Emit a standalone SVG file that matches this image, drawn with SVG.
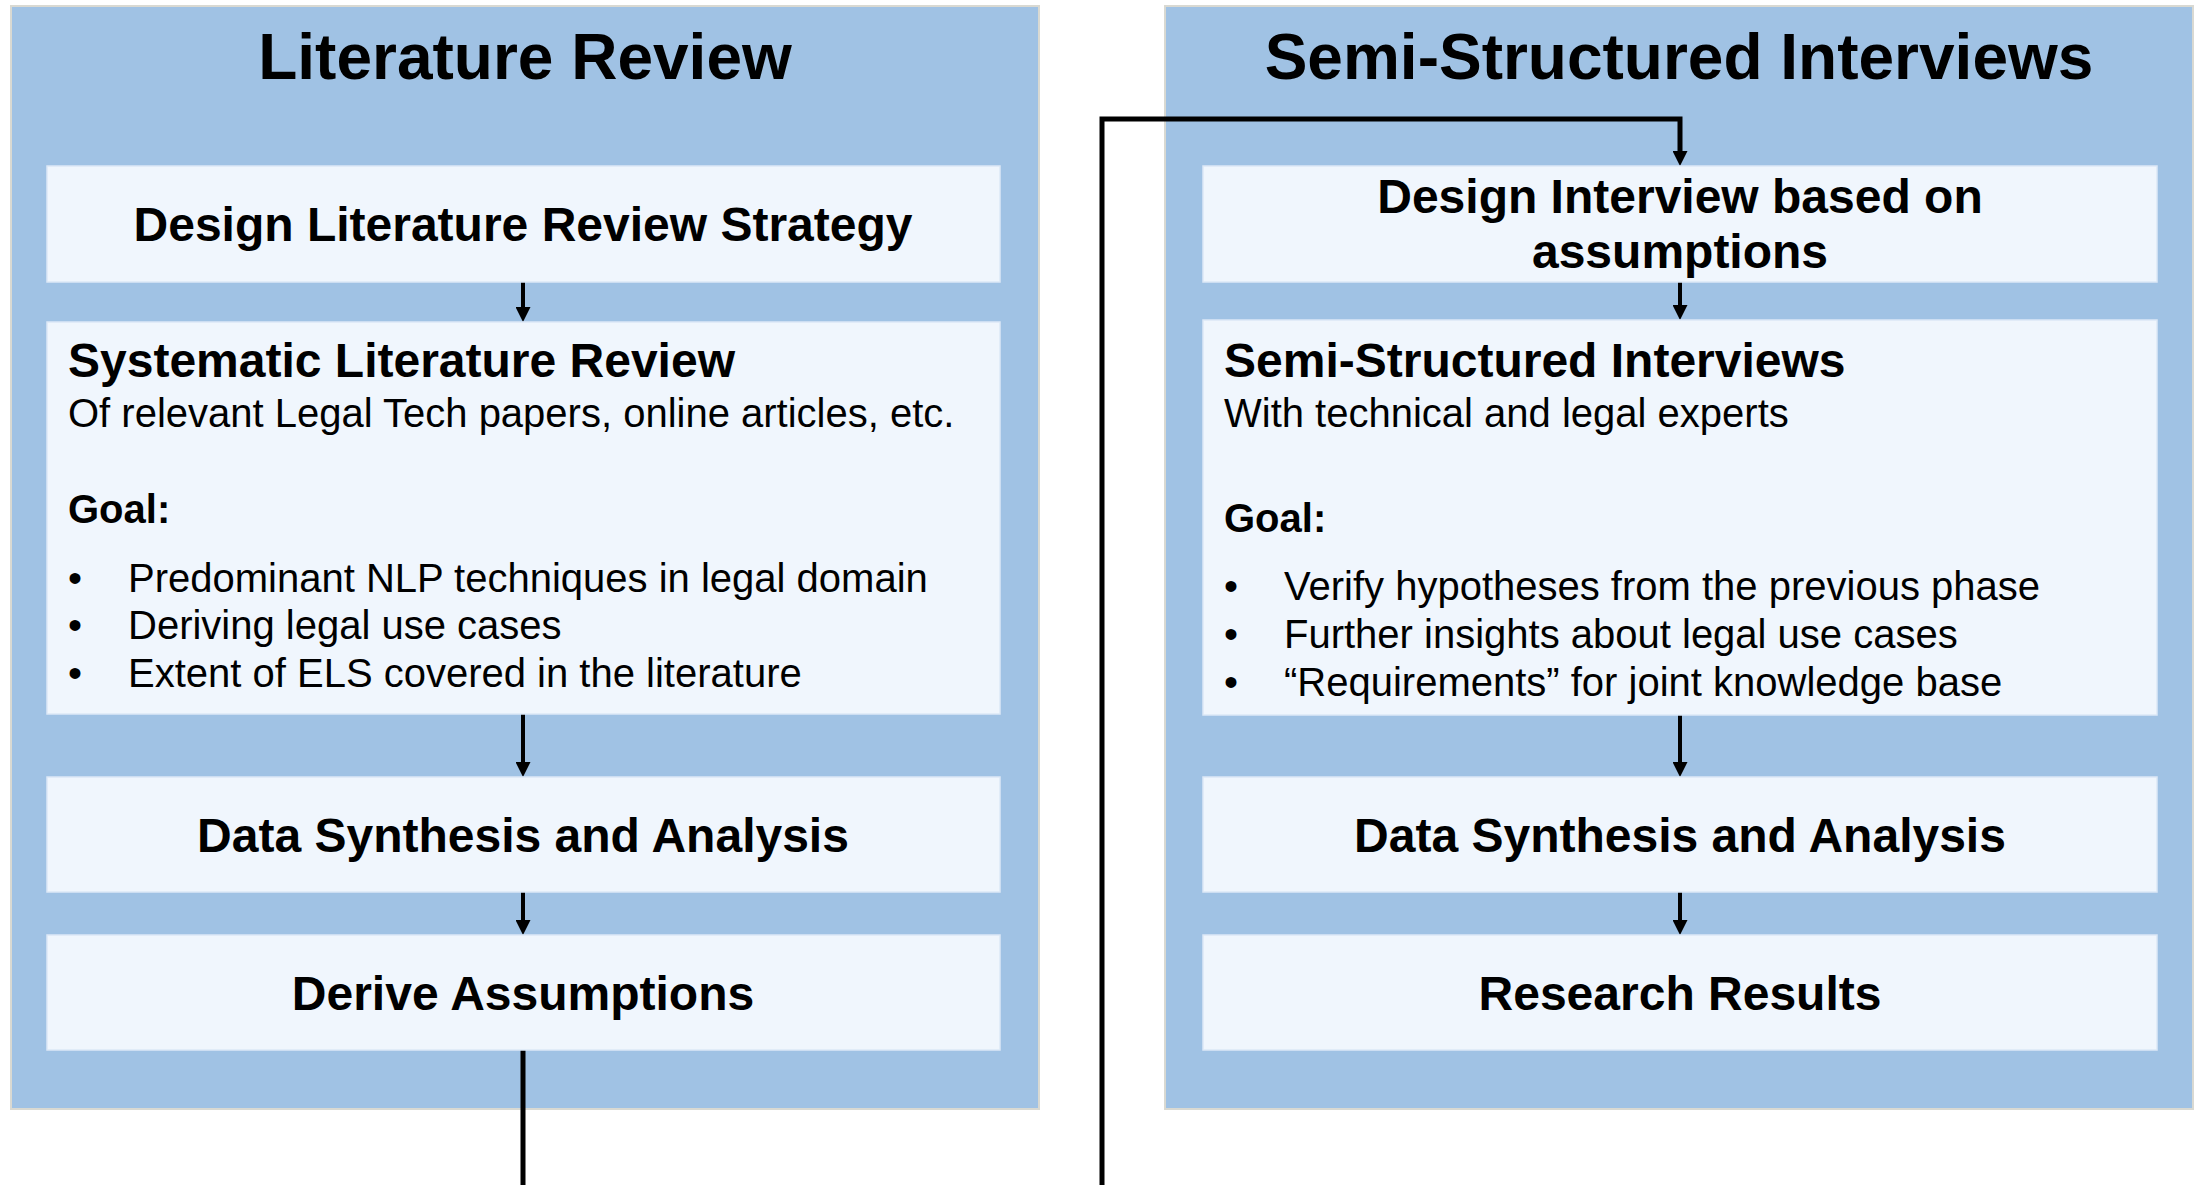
<svg xmlns="http://www.w3.org/2000/svg" width="2199" height="1185" viewBox="0 0 2199 1185">
<defs>
<style>
.panel{fill:#a0c2e4;stroke:#d9d9d2;stroke-width:2}
.box{fill:#f0f6fd;stroke:#dce8f6;stroke-width:1.5}
text{font-family:"Liberation Sans",Arial,Helvetica,sans-serif;fill:#000}
.ptitle{font-size:64px;font-weight:bold;text-anchor:middle}
.btitle{font-size:48px;font-weight:bold}
.c{text-anchor:middle}
.body{font-size:40px}
.bold{font-weight:bold}
.conn{fill:none;stroke:#000;stroke-width:4}
.long{stroke-width:5}
</style>
<marker id="arr" viewBox="0 0 15 15" refX="7" refY="7.5" markerWidth="15" markerHeight="15" markerUnits="userSpaceOnUse" orient="auto">
<path d="M0,0 L15,7.5 L0,15 Z" fill="#000"/>
</marker>
</defs>
<rect width="2199" height="1185" fill="#fff"/>
<g id="panel-literature-review">
<rect class="panel" x="11" y="6" width="1028" height="1103"/>
<text class="ptitle" x="525" y="79">Literature Review</text>
</g>
<g id="panel-semi-structured-interviews">
<rect class="panel" x="1165" y="6" width="1028" height="1103"/>
<text class="ptitle" x="1679" y="79">Semi-Structured Interviews</text>
</g>
<g id="connectors">
<path class="conn" d="M523,282 V314" marker-end="url(#arr)"/>
<path class="conn" d="M523,714 V769" marker-end="url(#arr)"/>
<path class="conn" d="M523,892 V927" marker-end="url(#arr)"/>
<path class="conn" d="M1680,282 V312" marker-end="url(#arr)"/>
<path class="conn" d="M1680,715 V769" marker-end="url(#arr)"/>
<path class="conn" d="M1680,892 V927" marker-end="url(#arr)"/>
<path class="conn long" d="M523,1050 V1200 H1102 V119 H1680 V158" marker-end="url(#arr)"/>
</g>
<g id="lr-design">
<rect class="box" x="47" y="166" width="953" height="116"/>
<text class="btitle c" x="523" y="241">Design Literature Review Strategy</text>
</g>
<g id="lr-slr">
<rect class="box" x="47" y="322" width="953" height="392"/>
<text class="btitle" x="68" y="377">Systematic Literature Review</text>
<text class="body" x="68" y="427">Of relevant Legal Tech papers, online articles, etc.</text>
<text class="body bold" x="68" y="523">Goal:</text>
<text class="body" x="68" y="592">•</text><text class="body" x="128" y="592">Predominant NLP techniques in legal domain</text>
<text class="body" x="68" y="639">•</text><text class="body" x="128" y="639">Deriving legal use cases</text>
<text class="body" x="68" y="687">•</text><text class="body" x="128" y="687">Extent of ELS covered in the literature</text>
</g>
<g id="lr-synthesis">
<rect class="box" x="47" y="777" width="953" height="115"/>
<text class="btitle c" x="523" y="852">Data Synthesis and Analysis</text>
</g>
<g id="lr-assumptions">
<rect class="box" x="47" y="935" width="953" height="115"/>
<text class="btitle c" x="523" y="1010">Derive Assumptions</text>
</g>
<g id="ssi-design">
<rect class="box" x="1203" y="166" width="954" height="116"/>
<text class="btitle c" x="1680" y="213">Design Interview based on</text>
<text class="btitle c" x="1680" y="268">assumptions</text>
</g>
<g id="ssi-interviews">
<rect class="box" x="1203" y="320" width="954" height="395"/>
<text class="btitle" x="1224" y="377">Semi-Structured Interviews</text>
<text class="body" x="1224" y="427">With technical and legal experts</text>
<text class="body bold" x="1224" y="532">Goal:</text>
<text class="body" x="1224" y="600">•</text><text class="body" x="1284" y="600">Verify hypotheses from the previous phase</text>
<text class="body" x="1224" y="648">•</text><text class="body" x="1284" y="648">Further insights about legal use cases</text>
<text class="body" x="1224" y="696">•</text><text class="body" x="1284" y="696">“Requirements” for joint knowledge base</text>
</g>
<g id="ssi-synthesis">
<rect class="box" x="1203" y="777" width="954" height="115"/>
<text class="btitle c" x="1680" y="852">Data Synthesis and Analysis</text>
</g>
<g id="ssi-results">
<rect class="box" x="1203" y="935" width="954" height="115"/>
<text class="btitle c" x="1680" y="1010">Research Results</text>
</g>
</svg>
